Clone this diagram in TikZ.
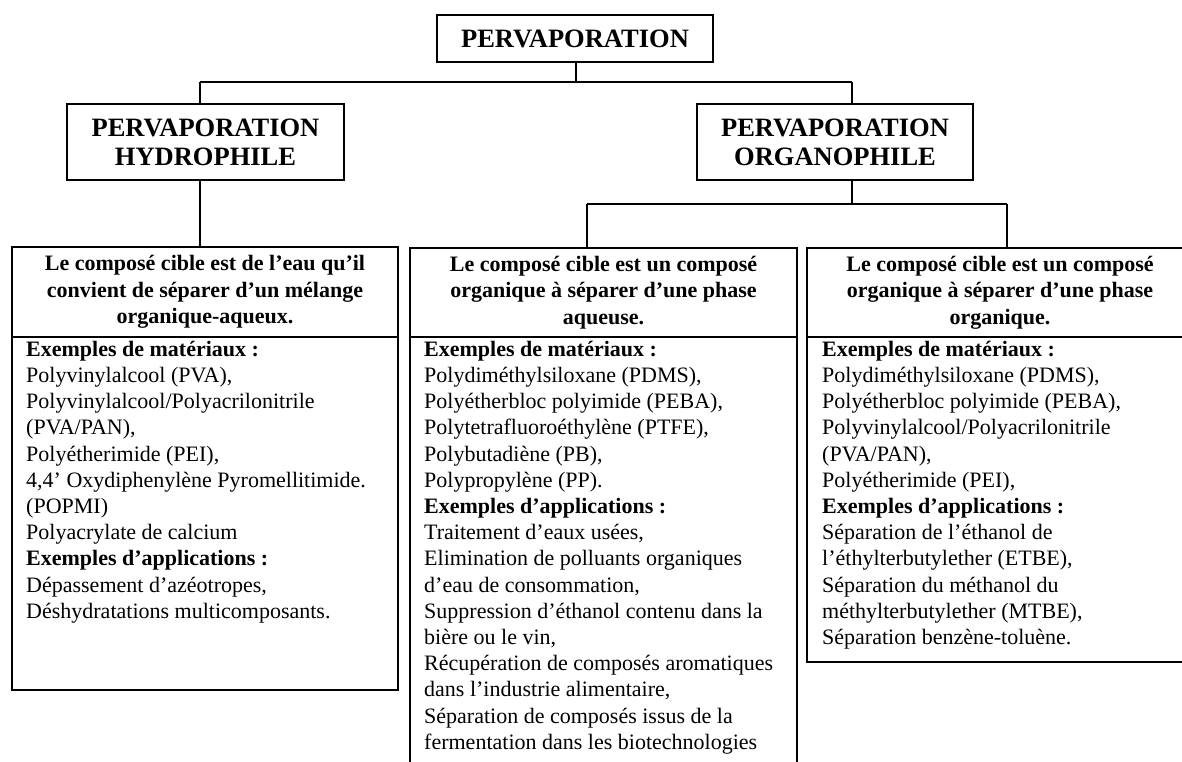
\documentclass[tikz,border=0pt]{standalone}
\usepackage{fontspec}
\setmainfont{Liberation Serif}
\begin{document}
\begin{tikzpicture}[x=1pt,y=-1pt,
  box/.style={draw=black, line width=1.4pt, inner sep=0pt},
  conn/.style={draw=black, line width=1.4pt},
  ttl/.style={font=\fontsize{26.5}{29}\selectfont\bfseries, align=center},
  hdr/.style={font=\fontsize{22}{26.5}\selectfont\bfseries, align=center},
  bodytext/.style={font=\fontsize{22}{26.2}\selectfont, align=left, inner sep=0pt, anchor=north west},
]
\useasboundingbox (0,0) rectangle (1182,762);
\fill[white] (0,0) rectangle (1182,762);
\clip (0,0) rectangle (1182,762);

% top level
\node[box, ttl, minimum width=276pt, minimum height=47pt] (pv) at (575,38.5) {PERVAPORATION};
\node[box, ttl, minimum width=277pt, minimum height=76pt] (hyd) at (205.5,142) {PERVAPORATION\\HYDROPHILE};
\node[box, ttl, minimum width=276pt, minimum height=76pt] (org) at (835,142) {PERVAPORATION\\ORGANOPHILE};

% column headers
\node[box, hdr, minimum width=386pt, minimum height=90pt] (h1) at (205,292) {Le composé cible est de l’eau qu’il\\convient de séparer d’un mélange\\organique-aqueux.};
\node[box, hdr, minimum width=387pt, minimum height=89pt] (h2) at (603.5,292.5) {Le composé cible est un composé\\organique à séparer d’une phase\\aqueuse.};
\node[box, hdr, minimum width=386pt, minimum height=89pt] (h3) at (1000,292.5) {Le composé cible est un composé\\organique à séparer d’une phase\\organique.};

% column bodies
\node[box, minimum width=386pt, minimum height=353pt] (b1) at (205,513.5) {};
\node[box, minimum width=387pt, minimum height=438pt] (b2) at (603.5,556) {};
\node[box, minimum width=386pt, minimum height=325pt] (b3) at (1000,499.5) {};

\node[bodytext] (t1) at (26,336) {\rule{0pt}{20pt}\textbf{Exemples de matériaux :}\\
Polyvinylalcool (PVA),\\
Polyvinylalcool/Polyacrilonitrile\\
(PVA/PAN),\\
Polyétherimide (PEI),\\
4,4’ Oxydiphenylène Pyromellitimide.\\
(POPMI)\\
Polyacrylate de calcium\\
\textbf{Exemples d’applications :}\\
Dépassement d’azéotropes,\\
Déshydratations multicomposants.};

\node[bodytext] (t2) at (424,336) {\rule{0pt}{20pt}\textbf{Exemples de matériaux :}\\
Polydiméthylsiloxane (PDMS),\\
Polyétherbloc polyimide (PEBA),\\
Polytetrafluoroéthylène (PTFE),\\
Polybutadiène (PB),\\
Polypropylène (PP).\\
\textbf{Exemples d’applications :}\\
Traitement d’eaux usées,\\
Elimination de polluants organiques\\
d’eau de consommation,\\
Suppression d’éthanol contenu dans la\\
bière ou le vin,\\
Récupération de composés aromatiques\\
dans l’industrie alimentaire,\\
Séparation de composés issus de la\\
fermentation dans les biotechnologies};

\node[bodytext] (t3) at (822,336) {\rule{0pt}{20pt}\textbf{Exemples de matériaux :}\\
Polydiméthylsiloxane (PDMS),\\
Polyétherbloc polyimide (PEBA),\\
Polyvinylalcool/Polyacrilonitrile\\
(PVA/PAN),\\
Polyétherimide (PEI),\\
\textbf{Exemples d’applications :}\\
Séparation de l’éthanol de\\
l’éthylterbutylether (ETBE),\\
Séparation du méthanol du\\
méthylterbutylether (MTBE),\\
Séparation benzène-toluène.};

% connectors
\coordinate (j0) at (576,82);
\coordinate (jl) at (200,82);
\coordinate (jr) at (852,82);
\coordinate (k0) at (852,204);
\coordinate (kl) at (587,204);
\coordinate (kr) at (1007,204);
\draw[conn] (pv.south -| j0) -- (j0);
\draw[conn] (jl) -- (jr);
\draw[conn] (jl) -- (jl |- hyd.north);
\draw[conn] (jr) -- (jr |- org.north);
\draw[conn] (hyd.south -| jl) -- (jl |- h1.north);
\draw[conn] (org.south -| k0) -- (k0);
\draw[conn] (kl) -- (kr);
\draw[conn] (kl) -- (kl |- h2.north);
\draw[conn] (kr) -- (kr |- h3.north);
\end{tikzpicture}
\end{document}
